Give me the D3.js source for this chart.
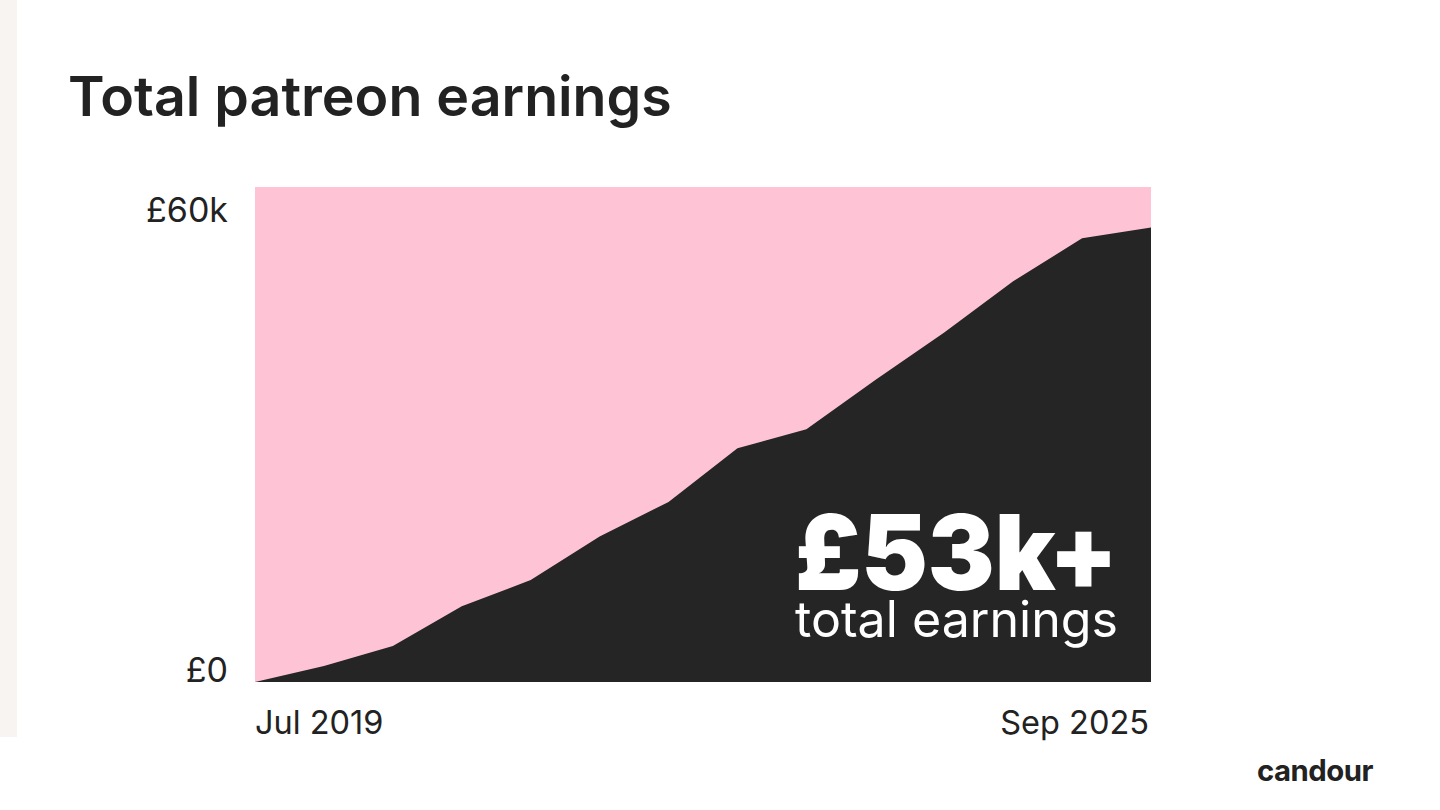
<!DOCTYPE html>
<html>
<head>
<meta charset="utf-8">
<script src="https://cdn.jsdelivr.net/npm/d3@7"></script>
<style>
  html, body { margin: 0; padding: 0; background: #ffffff; }
  svg { display: block; }
</style>
</head>
<body>
<div id="chart"></div>
<script>
// data (cumulative earnings, £k)
const periods = ["Jul 2019", "p1", "p2", "p3", "p4", "p5", "p6", "p7", "p8", "p9", "p10", "p11", "p12", "Sep 2025"];
const earnings = [0, 2.1, 4.7, 9.9, 13.3, 19.0, 23.5, 30.5, 33.0, 39.4, 45.6, 52.3, 57.9, 59.3];
const yTicks = [0, 60];
const yTickLabels = ["£0", "£60k"];
const xTickLabels = ["Jul 2019", "Sep 2025"];

const WIDTH = 1440;
const HEIGHT = 810;
const PLOT = {left: 255, right: 1151, top: 187, bottom: 682};
const INK = "#222222";
const FONT = "Inter, 'Noto Sans', sans-serif";

const svg = d3.select("#chart")
  .append("svg")
  .attr("width", WIDTH)
  .attr("height", HEIGHT);

// pale strip on the left edge
svg.append("rect")
  .attr("x", 0).attr("y", 0)
  .attr("width", 17).attr("height", 737)
  .attr("fill", "#f8f4f1");

// shrink/grow a text so it spans a given width
function fitWidth(sel, target) {
  const size = parseFloat(sel.attr("font-size"));
  const w = sel.node().getComputedTextLength();
  sel.attr("font-size", size * target / w);
}

// title
const title = svg.append("text")
  .attr("x", 68)
  .attr("y", 116)
  .attr("font-family", FONT)
  .attr("font-weight", 600)
  .attr("font-size", 54)
  .attr("fill", INK)
  .text("Total patreon earnings");
fitWidth(title, 604);

const x = d3.scaleLinear()
  .domain([0, periods.length - 1])
  .range([PLOT.left, PLOT.right]);

const y = d3.scaleLinear()
  .domain([0, 64.6])
  .range([PLOT.bottom, PLOT.top]);

// pink background of the plot
svg.append("rect")
  .attr("x", x(0))
  .attr("y", y(64.6))
  .attr("width", x(periods.length - 1) - x(0))
  .attr("height", y(0) - y(64.6))
  .attr("fill", "#fec4d6");

// dark area
const area = d3.area()
  .x((d, i) => x(i))
  .y0(y(0))
  .y1(d => y(d));

svg.append("path")
  .datum(earnings)
  .attr("d", area)
  .attr("fill", "#252525");

// y labels
svg.selectAll(".ylab")
  .data(yTicks)
  .enter().append("text")
  .attr("class", "ylab")
  .attr("x", 228)
  .attr("y", d => y(d))
  .attr("text-anchor", "end")
  .attr("font-family", FONT)
  .attr("font-size", 34)
  .attr("fill", INK)
  .text((d, i) => yTickLabels[i]);

// x labels, only first and last
svg.selectAll(".xlab")
  .data([0, periods.length - 1])
  .enter().append("text")
  .attr("class", "xlab")
  .attr("x", (d, i) => x(d) - (i === 0 ? 0 : 2))
  .attr("y", 734)
  .attr("text-anchor", (d, i) => i === 0 ? "start" : "end")
  .attr("font-family", FONT)
  .attr("font-size", 32.5)
  .attr("fill", INK)
  .text((d, i) => xTickLabels[i]);

// callout: heavy figure squeezed to the reference width
svg.append("text")
  .attr("x", 795)
  .attr("y", 590)
  .attr("font-family", FONT)
  .attr("font-weight", 900)
  .attr("font-size", 104)
  .attr("textLength", 323)
  .attr("lengthAdjust", "spacingAndGlyphs")
  .attr("fill", "#ffffff")
  .text("£53k+");

const sub = svg.append("text")
  .attr("x", 1118)
  .attr("y", 637)
  .attr("text-anchor", "end")
  .attr("font-family", FONT)
  .attr("font-weight", 400)
  .attr("font-size", 48)
  .attr("fill", "#ffffff")
  .text("total earnings");
fitWidth(sub, 323);

// logo
const logo = svg.append("text")
  .attr("x", 1257)
  .attr("y", 781)
  .attr("font-family", FONT)
  .attr("font-weight", 700)
  .attr("font-size", 30)
  .attr("letter-spacing", -0.5)
  .attr("fill", INK)
  .text("candour");
fitWidth(logo, 116);
</script>
</body>
</html>
